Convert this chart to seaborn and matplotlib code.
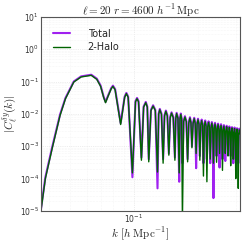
import numpy as np
import pandas as pd
import matplotlib
matplotlib.use("Agg")
import matplotlib.pyplot as plt
from matplotlib.ticker import NullFormatter
import seaborn as sns

sns.set_style("whitegrid")
plt.rcParams['mathtext.fontset'] = 'cm'
plt.rcParams['font.family'] = ['DejaVu Sans']

# values (rows line up across the three lists)
k = [0.0367, 0.0385, 0.0414, 0.0451, 0.0478,
     0.0523, 0.0566, 0.0631, 0.0670, 0.0698,
     0.0721, 0.0736, 0.0756, 0.0782, 0.0797,
     0.0816, 0.0866, 0.0904, 0.0921, 0.0939,
     0.0983, 0.1016, 0.1033, 0.1050, 0.1083,
     0.1109, 0.1135, 0.1154, 0.1172,
     0.1200, 0.1228, 0.1258, 0.1288,
     0.1304, 0.1320, 0.1344, 0.1368,
     0.1389, 0.1409, 0.1432, 0.1455,
     0.1477, 0.1498, 0.1526, 0.1553,
     0.1568, 0.1582, 0.1605, 0.1627,
     0.1641, 0.1655, 0.1670, 0.1684,
     0.1707, 0.1730, 0.1756, 0.1781,
     0.1804, 0.1826, 0.1846, 0.1866,
     0.1889, 0.1912, 0.1932, 0.1952,
     0.1972, 0.1992, 0.2012, 0.2032,
     0.2052, 0.2072, 0.2092, 0.2112,
     0.2132, 0.2152, 0.2172, 0.2192,
     0.2212, 0.2232, 0.2252, 0.2272,
     0.2292, 0.2312, 0.2332, 0.2352,
     0.2372, 0.2392, 0.2412, 0.2432,
     0.2452, 0.2472, 0.2492, 0.2512,
     0.2532, 0.2552, 0.2572, 0.2592,
     0.2612, 0.2632, 0.2652, 0.2672,
     0.2692, 0.2712, 0.2732, 0.2752,
     0.2772, 0.2792, 0.2812, 0.2832,
     0.2852, 0.2872, 0.2892, 0.2912,
     0.2932, 0.2952, 0.2972, 0.2992,
     0.3012, 0.3032, 0.3052, 0.3072,
     0.3092, 0.3112, 0.3134]

c_2halo = [1.0e-5, 1.0e-4, 8.4e-4, 9.0e-3, 2.95e-2,
           9.7e-2, 0.139, 0.156, 0.117, 0.071,
           0.0325, 0.0222, 0.0350, 0.0596, 0.0712,
           0.0555, 0.0047, 0.0325, 0.0424, 0.0325,
           1.5e-4, 0.0236, 0.0296, 0.0236, 3.7e-4,
           0.0161, 0.0223, 0.0161, 3.3e-4,
           0.0126, 0.0175, 0.0126, 1.6e-4,
           0.0097, 0.0135, 0.0097, 3.0e-4,
           0.0086, 0.0120, 0.0086, 5.3e-4,
           0.0076, 0.0106, 0.0076, 3.7e-4,
           0.0073, 0.0102, 0.0073, 1.5e-4,
           0.0070, 0.0097, 0.0070, 5.0e-6,
           0.0058, 0.0080, 0.0058, 3.3e-4,
           0.0053, 0.0074, 0.0053, 9.0e-4,
           0.0051, 0.0071, 0.0051, 6.0e-4,
           0.0048, 0.0066, 0.0048, 3.7e-4,
           0.0045, 0.0062, 0.0045, 1.2e-4,
           0.0042, 0.0058, 0.0042, 8.0e-5,
           0.0040, 0.0055, 0.0040, 4.0e-4,
           0.0037, 0.0052, 0.0037, 3.0e-4,
           0.0035, 0.0049, 0.0035, 3.2e-4,
           0.0034, 0.0047, 0.0034, 6.0e-4,
           0.0032, 0.0044, 0.0032, 1.8e-4,
           0.0030, 0.0042, 0.0030, 6.0e-4,
           0.0029, 0.0040, 0.0029, 5.0e-4,
           0.0027, 0.0038, 0.0027, 2.5e-4,
           0.0027, 0.0037, 0.0027, 4.0e-4,
           0.0025, 0.0035, 0.0025, 1.0e-4,
           0.0024, 0.0034, 0.0024, 5.0e-5,
           0.0023, 0.0032, 0.0024]

c_total = [1.1e-5, 1.1e-4, 9.2e-4, 9.6e-3, 3.1e-2,
           0.101, 0.145, 0.163, 0.123, 0.075,
           0.0342, 0.0235, 0.0366, 0.0625, 0.0748,
           0.0583, 0.0052, 0.0342, 0.0446, 0.0342,
           1.1e-4, 0.0248, 0.0312, 0.0248, 4.5e-4,
           0.0169, 0.0235, 0.0169, 4.0e-4,
           0.0133, 0.0185, 0.0133, 5.0e-5,
           0.0103, 0.0143, 0.0103, 4.0e-4,
           0.0091, 0.0127, 0.0091, 6.0e-4,
           0.0081, 0.0112, 0.0081, 4.5e-4,
           0.0078, 0.0108, 0.0078, 8.0e-5,
           0.0074, 0.0103, 0.0074, 3.0e-4,
           0.0061, 0.0085, 0.0061, 4.0e-4,
           0.0057, 0.0079, 0.0057, 1.0e-3,
           0.0055, 0.0076, 0.0055, 2.1e-4,
           0.0051, 0.0071, 0.0051, 5.0e-4,
           0.0048, 0.0067, 0.0048, 3.0e-4,
           0.0045, 0.0063, 0.0045, 4.0e-4,
           0.0042, 0.0059, 0.0042, 3.0e-4,
           0.0040, 0.0056, 0.0040, 2.5e-5,
           0.0038, 0.0053, 0.0038, 5.0e-4,
           0.0036, 0.0050, 0.0036, 2.2e-4,
           0.0035, 0.0048, 0.0035, 4.0e-4,
           0.0032, 0.0045, 0.0032, 3.5e-4,
           0.0031, 0.0043, 0.0031, 7.0e-4,
           0.0030, 0.0041, 0.0030, 5.0e-4,
           0.0028, 0.0039, 0.0028, 3.0e-4,
           0.0027, 0.0038, 0.0027, 4.0e-4,
           0.0026, 0.0036, 0.0026, 3.0e-4,
           0.0025, 0.0035, 0.0026]

df = pd.DataFrame({'k': k, 'Total': c_total, '2-Halo': c_2halo})

fig = plt.figure(figsize=(2.45, 2.45), dpi=100)
ax = fig.add_axes([0.167, 0.139, 0.813, 0.792])

sns.lineplot(data=df, x='k', y='Total', ax=ax, color='#a020f0', lw=1.5,
             estimator=None, sort=False, label='Total')
sns.lineplot(data=df, x='k', y='2-Halo', ax=ax, color='#006400', lw=1.0,
             estimator=None, sort=False, label='2-Halo')

ax.set_xscale('log')
ax.set_yscale('log')
ax.set_xlim(0.0367, 0.3134)
ax.set_ylim(1e-5, 1e1)
ax.xaxis.set_minor_formatter(NullFormatter())

ax.grid(True, which='major', color='#dddddd', ls=':', lw=0.5)
ax.grid(True, which='minor', color='#eeeeee', ls=':', lw=0.4)
for s in ax.spines.values():
    s.set_color('#555555')
    s.set_linewidth(0.8)
ax.tick_params(which='both', labelsize=5.5, direction='in', length=2, width=0.5,
               colors='#333333', pad=1.5)
ax.tick_params(which='minor', length=1)

ax.set_title(r"$\ell=20\ r=4600\ h^{-1}\,\mathrm{Mpc}$", fontsize=8, pad=2)
ax.set_xlabel(r"$k\ [h\ \mathrm{Mpc}^{-1}]$", fontsize=8, labelpad=0)
ax.set_ylabel(r"$|C_\ell^{\delta y}(k)|$", fontsize=8, labelpad=0.5)

leg = ax.legend(loc='upper left', frameon=False, fontsize=7, handlelength=1.8,
                borderaxespad=0.8, labelspacing=0.4, handletextpad=1.8)

fig.savefig('out.png', dpi=100)
